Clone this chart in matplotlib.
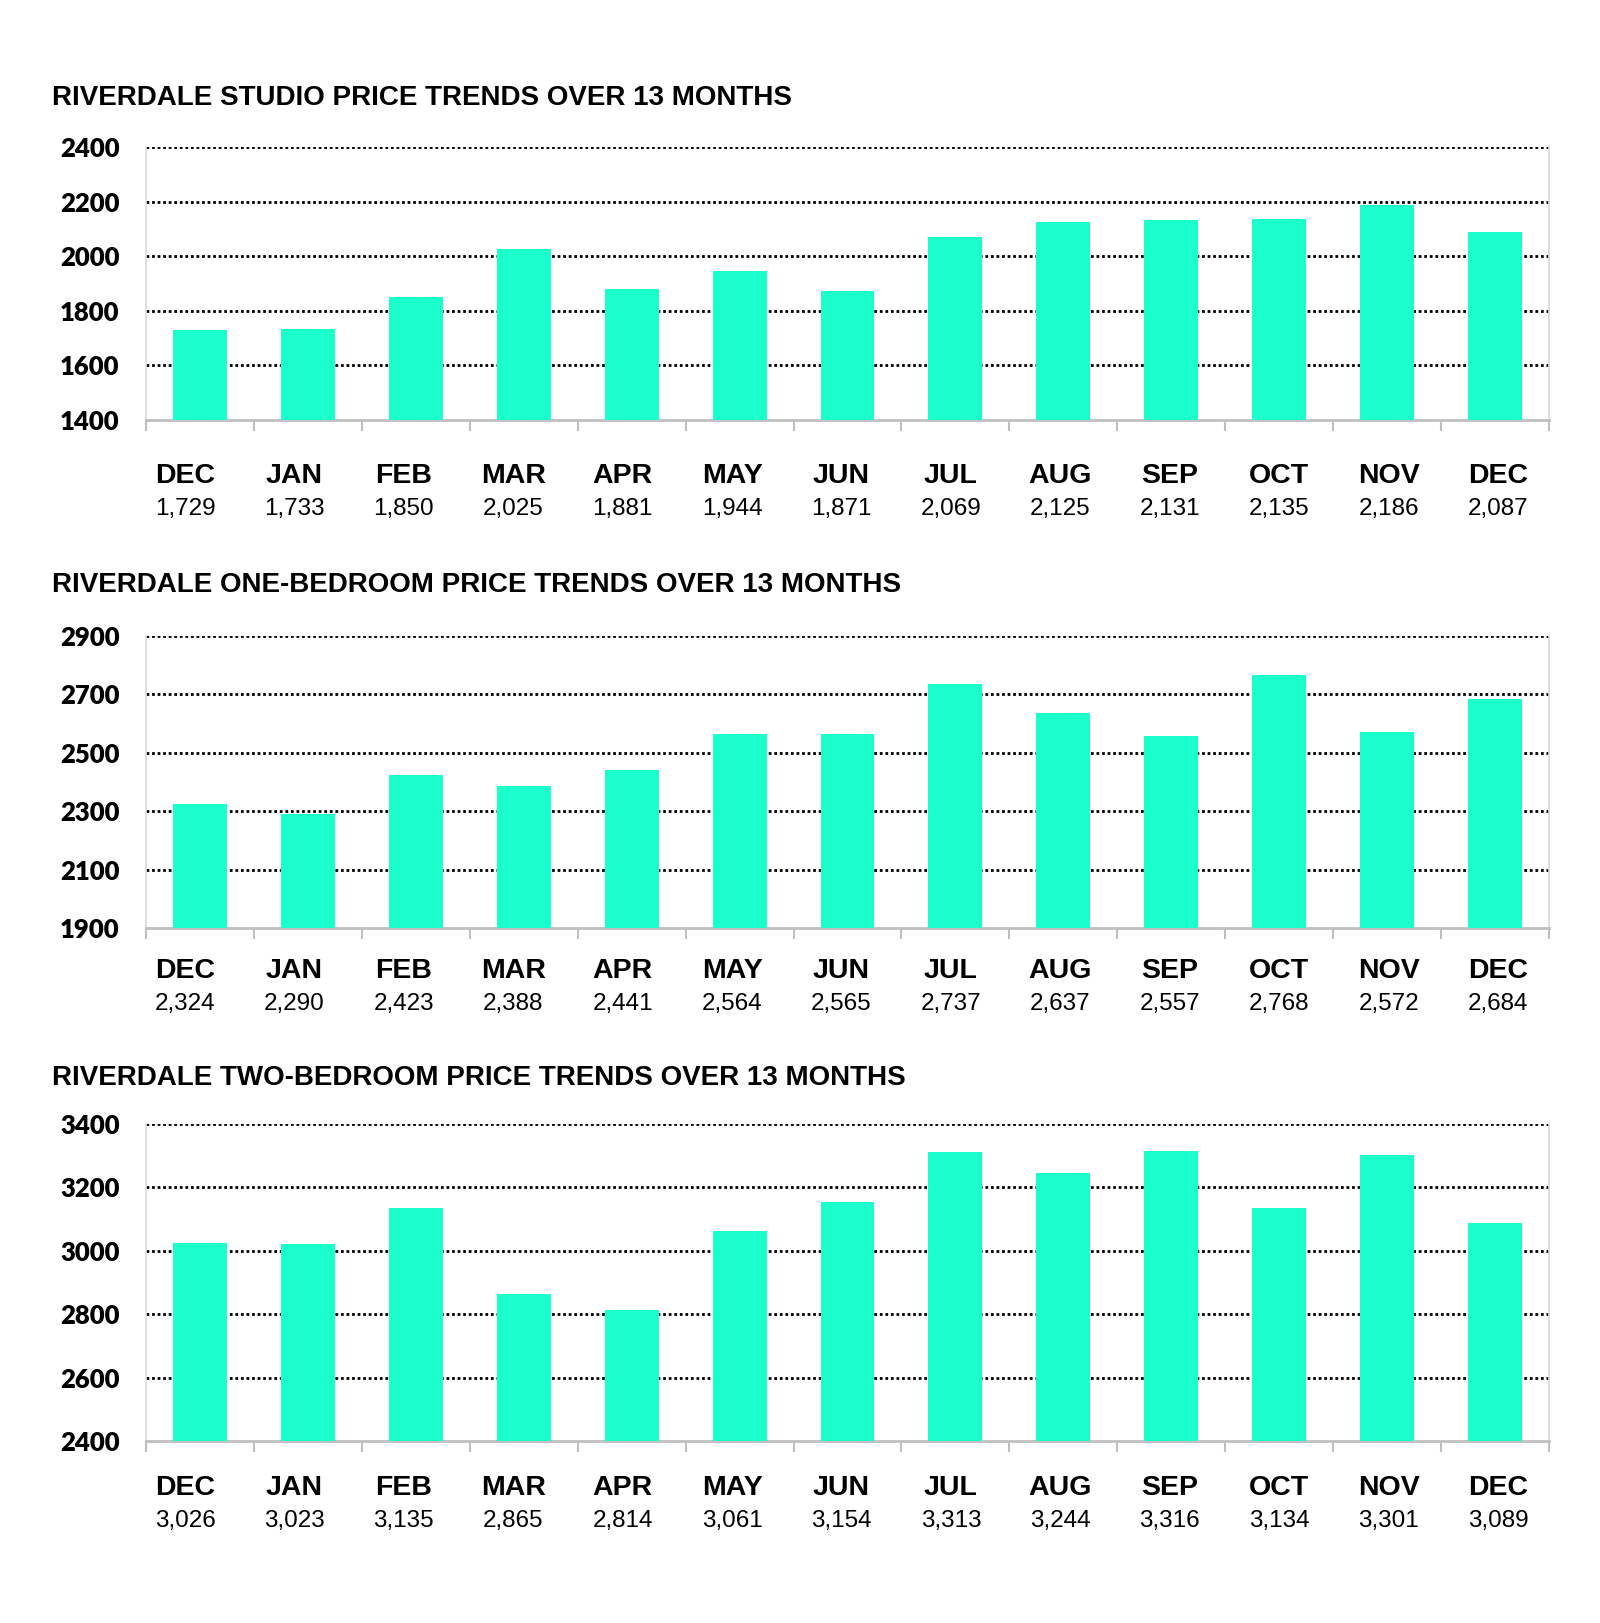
import matplotlib
matplotlib.use("Agg")
from matplotlib import pyplot as plt
import numpy as np

months = ["DEC", "JAN", "FEB", "MAR", "APR", "MAY", "JUN", "JUL", "AUG", "SEP", "OCT", "NOV", "DEC"]

studio = [1729, 1733, 1850, 2025, 1881, 1944, 1871, 2069, 2125, 2131, 2135, 2186, 2087]
one_bed = [2324, 2290, 2423, 2388, 2441, 2564, 2565, 2737, 2637, 2557, 2768, 2572, 2684]
two_bed = [3026, 3023, 3135, 2865, 2814, 3061, 3154, 3313, 3244, 3316, 3134, 3301, 3089]

titles = [
    "RIVERDALE STUDIO PRICE TRENDS OVER 13 MONTHS",
    "RIVERDALE ONE-BEDROOM PRICE TRENDS OVER 13 MONTHS",
    "RIVERDALE TWO-BEDROOM PRICE TRENDS OVER 13 MONTHS",
]
yranges = [(1400, 2400, 200), (1900, 2900, 200), (2400, 3400, 200)]

bar_color = "#1AFFCC"
spine_color = "#BFBFBF"

W, H = 1600, 1623
fig = plt.figure(figsize=(W / 100, H / 100), dpi=100)

# pixel boxes (left, top, right, bottom) of each plot area
boxes = [(146, 147, 1549, 420), (146, 636, 1549, 928), (146, 1124, 1549, 1441)]
title_y = [98, 585, 1078]
month_y = [476, 971, 1488]
value_y = [509, 1004, 1521]
# month labels sit in their own row, a bit wider spaced than the bars
label_x0, label_x1 = 185, 1498

for i, vals in enumerate([studio, one_bed, two_bed]):
    l, t, r, b = boxes[i]
    ax = fig.add_axes([l / W, 1 - b / H, (r - l) / W, (b - t) / H])
    lo, hi, step = yranges[i]
    x = np.arange(len(vals))
    ax.bar(x, np.array(vals) - lo, bottom=lo, width=0.5, color=bar_color, zorder=3)
    ax.set_ylim(lo, hi)
    ax.set_xlim(-0.5, len(vals) - 0.5)

    yt = np.arange(lo, hi + 1, step)
    ax.set_yticks(yt)
    ax.set_yticklabels([str(v) for v in yt], fontfamily="Lato", fontweight="heavy", fontsize=18.5)
    ax.tick_params(axis="y", length=0, pad=19)
    for v in yt[1:]:
        ax.axhline(v, color="black", linestyle=(0, (1, 1)), linewidth=2, zorder=2)

    ax.set_xticks([])
    ax.set_xticks(np.arange(-0.5, len(vals)), minor=True)
    ax.tick_params(axis="x", which="minor", length=8, width=1.5, color=spine_color, direction="out")

    for s in ["left", "right"]:
        ax.spines[s].set_color("#D9D9D9")
        ax.spines[s].set_linewidth(1.2)
    ax.spines["bottom"].set_color(spine_color)
    ax.spines["bottom"].set_linewidth(2)
    ax.spines["top"].set_visible(False)

    fig.text(52 / W, 1 - title_y[i] / H, titles[i], fontfamily="Liberation Sans",
             fontweight="bold", fontsize=20, va="center", ha="left")

    for k, (m, v) in enumerate(zip(months, vals)):
        xf = (label_x0 + k * (label_x1 - label_x0) / (len(vals) - 1)) / W
        fig.text(xf, 1 - month_y[i] / H, m, fontfamily="Liberation Sans", fontweight="bold",
                 fontsize=20.5, ha="center", va="center")
        fig.text(xf, 1 - value_y[i] / H, f"{v:,}", fontfamily="Liberation Sans",
                 fontsize=17.5, ha="center", va="center")

fig.savefig("out.png", dpi=100, facecolor="white")
